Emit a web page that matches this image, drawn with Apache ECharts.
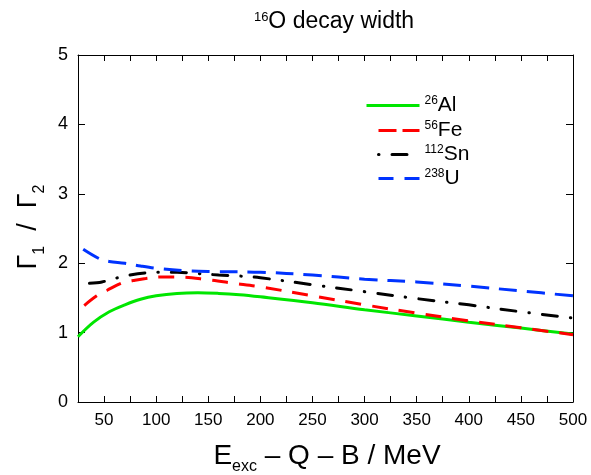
<!DOCTYPE html>
<html><head><meta charset="utf-8">
<script src="https://cdn.jsdelivr.net/npm/echarts@6/dist/echarts.min.js"></script>
<style>html,body{margin:0;padding:0;background:#fff}#c{width:591px;height:475px}</style>
</head><body><div id="c"></div>
<script>
const FONT = 'Liberation Sans';
const seriesNames = ['26Al', '56Fe', '112Sn', '238U'];
const al26 = [[25,0.94],[40,1.15],[55,1.30],[70,1.40],[85,1.48],[100,1.53],[120,1.565],[140,1.575],[160,1.565],[180,1.545],[200,1.515],[250,1.43],[300,1.33],[350,1.24],[400,1.15],[450,1.065],[500,0.98]];
const fe56 = [[31,1.39],[43,1.53],[53,1.61],[68,1.72],[78,1.75],[90,1.78],[104,1.80],[123,1.80],[150,1.76],[175,1.71],[200,1.66],[250,1.53],[300,1.40],[350,1.28],[400,1.17],[450,1.07],[500,0.97]];
const sn112 = [[36,1.71],[48,1.73],[63,1.79],[75,1.83],[90,1.86],[105,1.87],[120,1.87],[140,1.85],[160,1.83],[180,1.815],[200,1.79],[250,1.69],[300,1.59],[350,1.49],[400,1.40],[450,1.30],[500,1.21]];
const u238 = [[30,2.20],[46,2.06],[55,2.025],[70,2.00],[85,1.96],[104,1.92],[130,1.89],[152,1.88],[200,1.87],[250,1.83],[300,1.77],[350,1.73],[400,1.67],[450,1.60],[500,1.53]];
const xMin = 25, xMax = 500, xStep = 25, xLabelStep = 50;
const yMin = 0, yMax = 5, yStep = 1;

const colors = ['#00e600', '#ff0000', '#000000', '#0033ff'];
const dashes = ['solid', [16, 11], [15, 13, 0.5, 13], [18, 10]];
const legendDashes = ['solid', [18, 6], [15, 13, 0.5, 13], [15, 11]];
const legendOffsets = [0, 0, 28, 0];
const caps = ['butt', 'butt', 'round', 'butt'];
const dataSets = [al26, fe56, sn112, u238];

const richLegend = {
  sup: {fontSize: 12, fontFamily: FONT, color: '#000', verticalAlign: 'top', lineHeight: 21},
  m: {fontSize: 21, fontFamily: FONT, color: '#000', lineHeight: 21}
};
function supLabel(name){
  const mm = name.match(/^(\d+)(.*)$/);
  return '{sup|' + mm[1] + '}{m|' + mm[2] + '}';
}

const legendTops = [90, 115, 139, 163];
const legendLefts = [360, 372, 372, 372];
const legendWidths = [53, 41, 41, 41];
const legends = seriesNames.map((n, i) => ({
  show: true,
  data: [{name: n}],
  left: legendLefts[i],
  top: legendTops[i],
  itemWidth: legendWidths[i],
  itemHeight: 14,
  itemGap: 0,
  selectedMode: false,
  formatter: supLabel,
  itemStyle: {opacity: 0, borderWidth: 0},
  lineStyle: {width: 3, type: legendDashes[i], dashOffset: legendOffsets[i], cap: caps[i]},
  textStyle: {fontSize: 21, fontFamily: FONT, color: '#000', rich: richLegend}
}));

const axisCommon = {
  type: 'value', axisLine: {show: true, onZero: false, lineStyle: {color: '#000', width: 1}},
  splitLine: {show: false}
};

const chart = echarts.init(document.getElementById('c'), null, {renderer: 'canvas'});
chart.setOption({
  animation: false,
  backgroundColor: '#fff',
  grid: {left: 78, right: 18, top: 55, bottom: 73, containLabel: false},
  xAxis: [
    Object.assign({}, axisCommon, {min: xMin, max: xMax, interval: xStep, position: 'bottom',
      axisTick: {show: true, inside: true, length: 6, lineStyle: {color: '#000'}},
      axisLabel: {margin: 10, fontFamily: FONT, fontSize: 17, color: '#000',
        formatter: v => (v % xLabelStep === 0 ? String(v) : '')}}),
    Object.assign({}, axisCommon, {min: xMin, max: xMax, interval: xStep, position: 'top',
      axisTick: {show: true, inside: true, length: 6, lineStyle: {color: '#000'}},
      axisLabel: {show: false}})
  ],
  yAxis: [
    Object.assign({}, axisCommon, {min: yMin, max: yMax, interval: yStep, position: 'left',
      axisTick: {show: true, inside: true, length: 7, lineStyle: {color: '#000'}},
      axisLabel: {margin: 10, fontFamily: FONT, fontSize: 18, color: '#000'}}),
    Object.assign({}, axisCommon, {min: yMin, max: yMax, interval: yStep, position: 'right',
      axisTick: {show: true, inside: true, length: 7, lineStyle: {color: '#000'}},
      axisLabel: {show: false}})
  ],
  legend: legends,
  series: seriesNames.map((n, i) => ({
    name: n, type: 'line', data: dataSets[i], symbol: 'none', showSymbol: false,
    smooth: 0.35, clip: true,
    lineStyle: {color: colors[i], width: 3, type: dashes[i], cap: caps[i]},
    itemStyle: {color: colors[i]}
  })),
  graphic: [
    {type: 'text', x: 334, y: 22, style: {text: '{s|16}{t|O decay width}', align: 'center', verticalAlign: 'middle',
      rich: {s: {fontSize: 13, fontFamily: FONT, verticalAlign: 'top', lineHeight: 23, fill: '#000'},
             t: {fontSize: 23, fontFamily: FONT, lineHeight: 23, fill: '#000'}}}},
    {type: 'text', x: 327, y: 456, style: {text: '{t|E}{s|exc}{t| \u2013 Q \u2013 B / MeV}', align: 'center', verticalAlign: 'middle',
      rich: {t: {fontSize: 28, fontFamily: FONT, lineHeight: 38, fill: '#000'},
             s: {fontSize: 16, fontFamily: FONT, verticalAlign: 'bottom', lineHeight: 16, fill: '#000'}}}},
    {type: 'text', x: 29, y: 227, rotation: Math.PI / 2, style: {text: '{t|\u0393}{s|1}{t|  /  \u0393}{s|2}', align: 'center', verticalAlign: 'middle',
      rich: {t: {fontSize: 27, fontFamily: FONT, lineHeight: 38, fill: '#000'},
             s: {fontSize: 16, fontFamily: FONT, verticalAlign: 'bottom', lineHeight: 16, fill: '#000'}}}}
  ]
});
</script></body></html>
